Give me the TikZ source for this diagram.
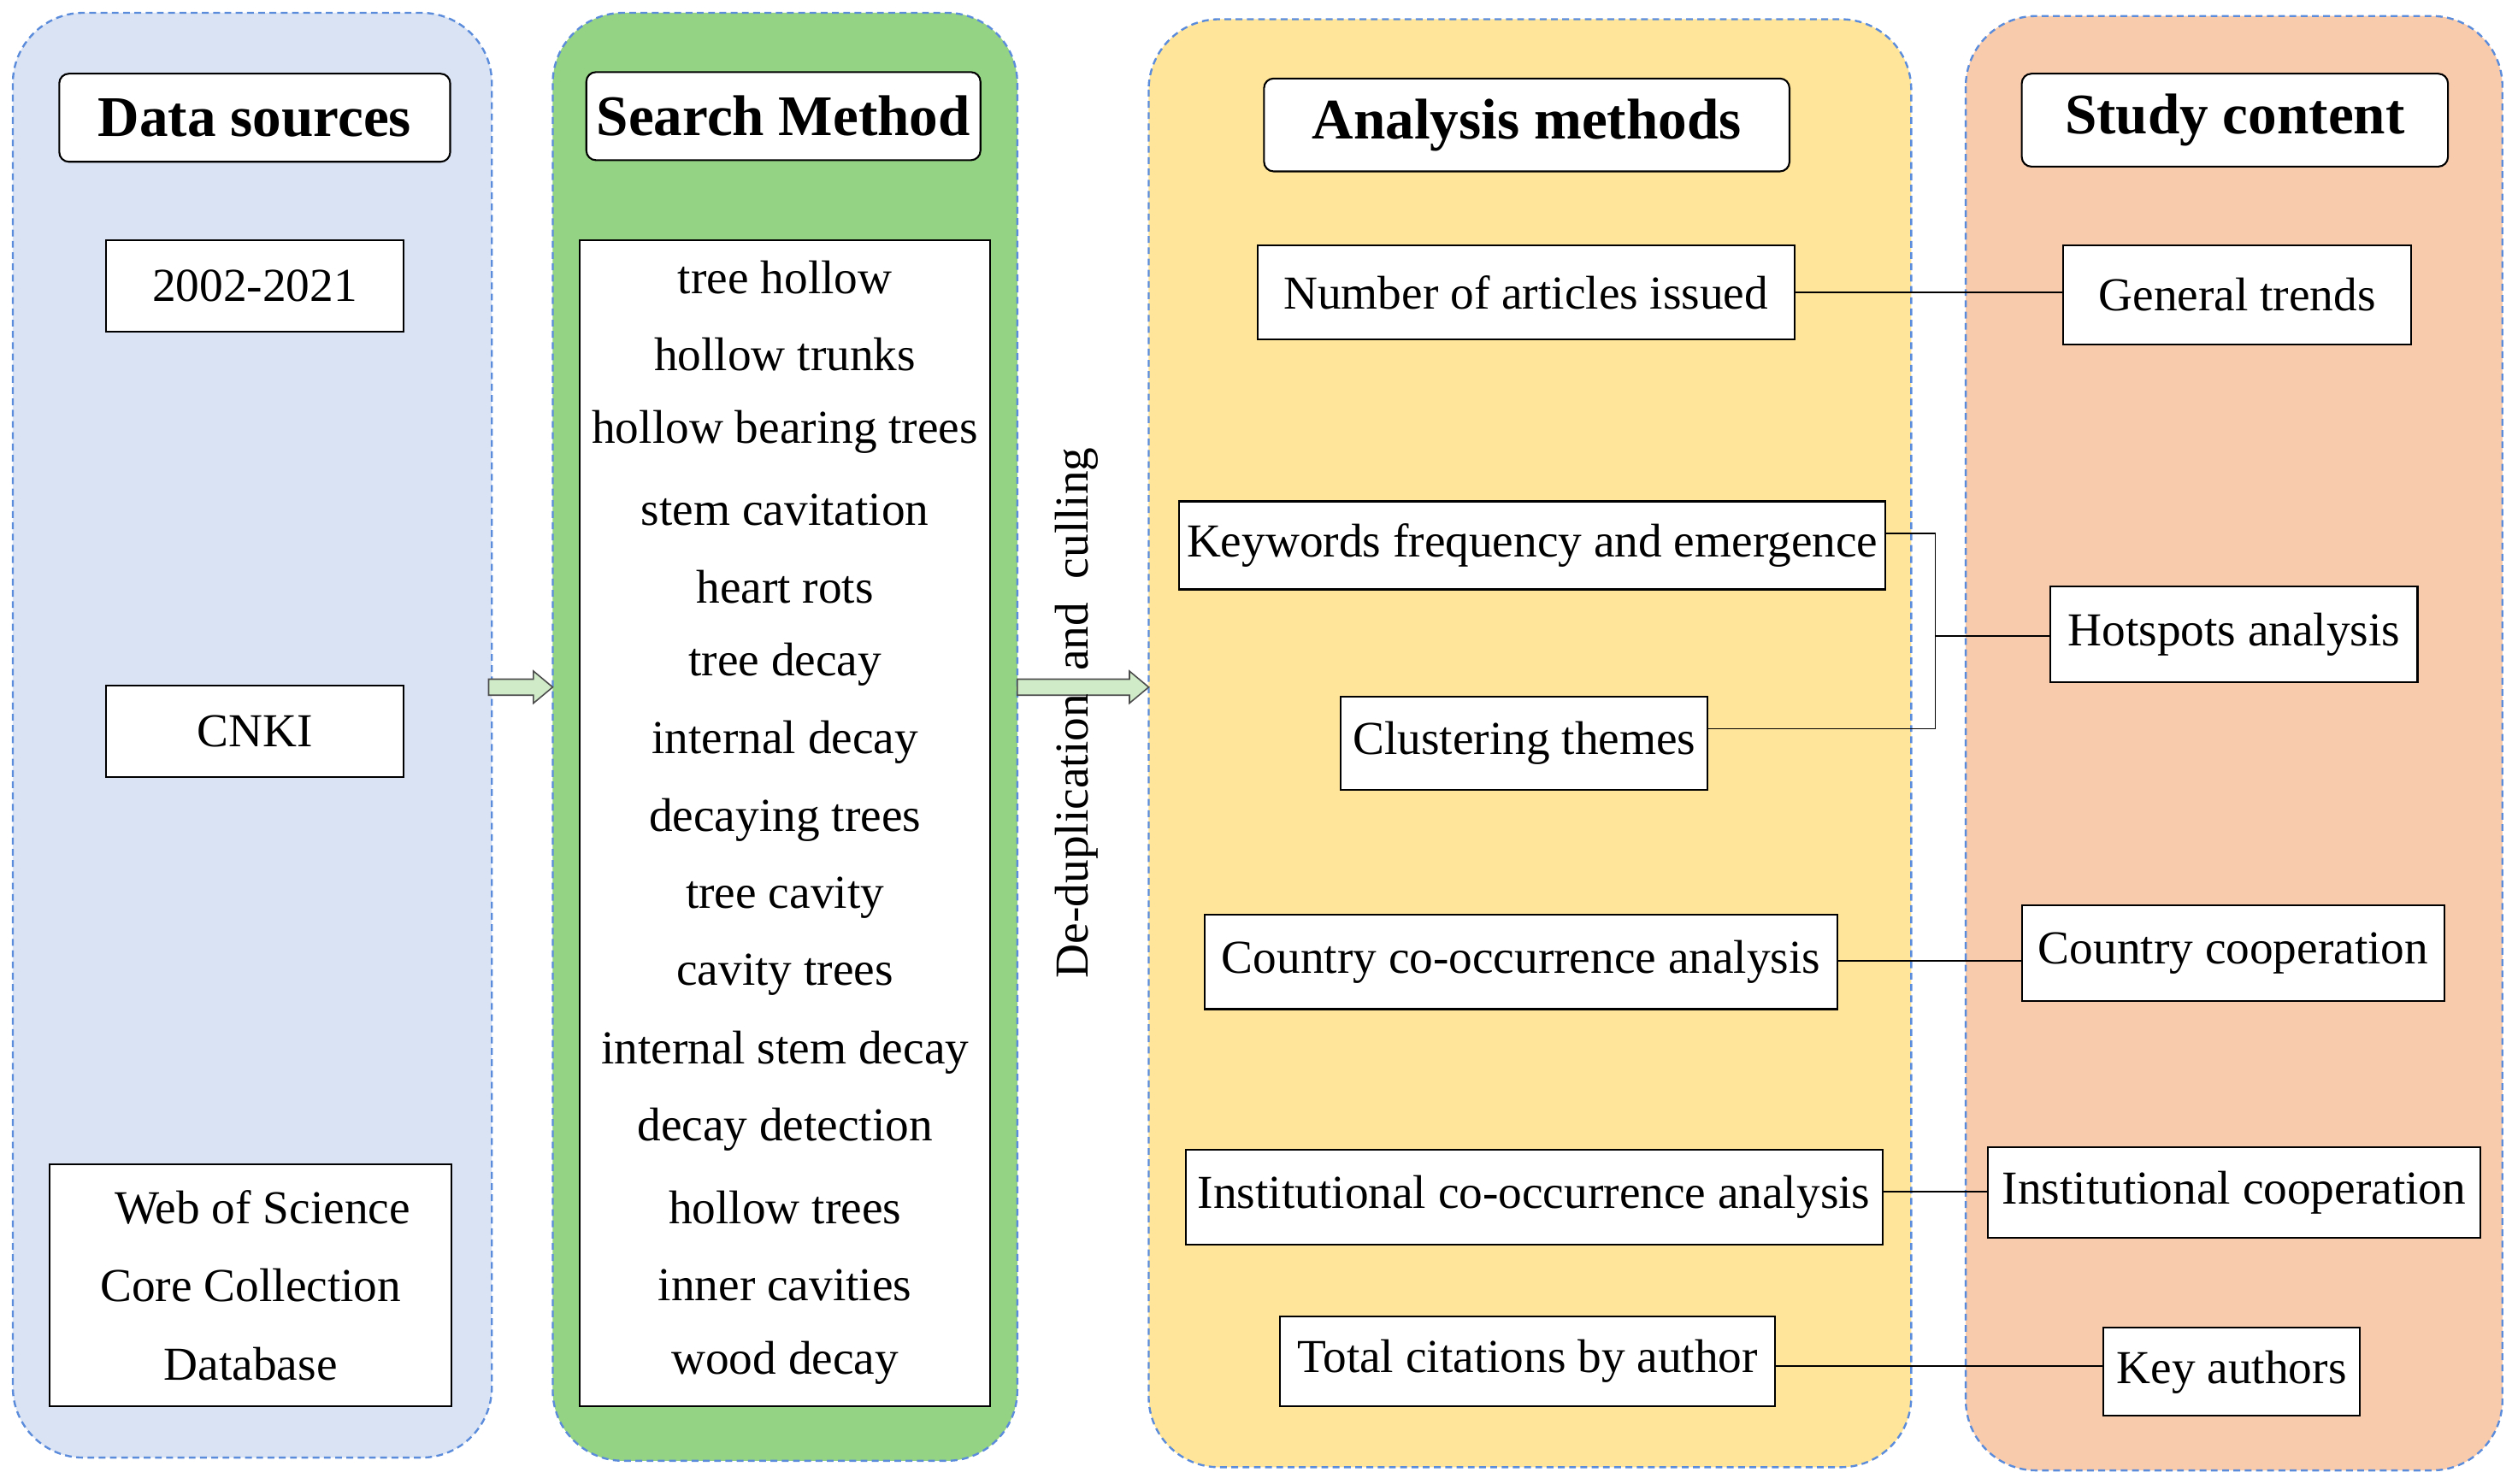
\documentclass[tikz,border=0pt]{standalone}
\usepackage{fontspec}
\setmainfont{Liberation Serif}
\definecolor{cblue}{RGB}{218,227,243}
\definecolor{cgreen}{RGB}{148,210,132}
\definecolor{cyellow}{RGB}{255,229,153}
\definecolor{corange}{RGB}{249,203,173}
\definecolor{dashb}{RGB}{91,140,220}
\begin{document}
\begin{tikzpicture}[x=0.5mm,y=-0.5mm,
  col/.style={draw=dashb,dashed,dash pattern=on 6pt off 4pt,line width=1.8pt,rounded corners=22mm},
  hdr/.style={draw,fill=white,line width=1.6pt,rounded corners=3mm,inner sep=0pt,font=\fontsize{51}{60}\selectfont\bfseries},
  box/.style={draw,fill=white,line width=1.6pt,inner sep=0pt,font=\fontsize{42}{50}\selectfont},
  ln/.style={line width=1.3pt},
  blk/.style={draw=black!70,fill=cgreen!45,line width=1.2pt}]
\useasboundingbox (0,0) rectangle (1568,926);
\fill[white] (0,0) rectangle (1568,926);
% columns
\draw[col,fill=cblue] (8,8) rectangle (307,910);
\draw[col,fill=cgreen] (345,8) rectangle (635,912);
\draw[col,fill=cyellow] (717,12) rectangle (1193,916);
\draw[col,fill=corange] (1227,10) rectangle (1562,918);
% headers
\node[hdr,minimum width=122mm,minimum height=27.5mm] (h1) at (159,73.5) {Data sources};
\node[hdr,minimum width=123mm,minimum height=27.5mm] (h2) at (489,72.5) {Search Method};
\node[hdr,minimum width=164mm,minimum height=29mm] (h3) at (953,78) {Analysis methods};
\node[hdr,minimum width=133mm,minimum height=29mm] (h4) at (1395,75) {Study content};
% data sources
\node[box,minimum width=93mm,minimum height=28.5mm] (d1) at (159,178.5) {2002-2021};
\node[box,minimum width=93mm,minimum height=28.5mm] (d2) at (159,456.5) {CNKI};
\node[box,minimum width=125.5mm,minimum height=75.5mm,align=center,font=\fontsize{42}{24.5mm}\selectfont] (d3) at (156.5,802.5) {\ \ Web of Science\\Core Collection\\Database};
% search list
\node[box,minimum width=128mm,minimum height=364mm] (s) at (490,514) {};
\foreach \t [count=\i] in {tree hollow,hollow trunks,hollow bearing trees,stem cavitation,heart rots,tree decay,internal decay,decaying trees,tree cavity,cavity trees,internal stem decay,decay detection,hollow trees,inner cavities,wood decay}
  \node[font=\fontsize{42}{50}\selectfont] (s\i) at (490,{173+(\i-1)*48.4}) {\t};
% arrows
\draw[blk] (305,424) -- (333,424) -- (333,419) -- (345,429) -- (333,439) -- (333,434) -- (305,434) -- cycle;
\draw[blk] (635,424) -- (705,424) -- (705,419) -- (717,429) -- (705,439) -- (705,434) -- (635,434) -- cycle;
\node[rotate=90,font=\fontsize{42}{50}\selectfont] (dl) at (672,445) {De-duplication\ \ and\ \ culling};
% analysis
\node[box,minimum width=167.5mm,minimum height=29.5mm] (m1) at (952.5,182.5) {Number of articles issued};
\node[box,minimum width=220.5mm,minimum height=27.5mm] (m2) at (956.5,340.5) {Keywords frequency and emergence};
\node[box,minimum width=114.5mm,minimum height=29mm] (m3) at (951.5,464) {Clustering themes};
\node[box,minimum width=197.5mm,minimum height=29.5mm] (m4) at (949.5,600.5) {Country co-occurrence analysis};
\node[box,minimum width=217.5mm,minimum height=29.5mm] (m5) at (957.5,747.5) {Institutional co-occurrence analysis};
\node[box,minimum width=154.5mm,minimum height=28mm] (m6) at (953.5,850) {Total citations by author};
% study
\node[box,minimum width=108.5mm,minimum height=31mm] (c1) at (1396.5,184) {General trends};
\node[box,minimum width=114.5mm,minimum height=30mm] (c2) at (1394.5,396) {Hotspots analysis};
\node[box,minimum width=132mm,minimum height=30mm] (c3) at (1394,595) {Country cooperation};
\node[box,minimum width=153.5mm,minimum height=28.5mm] (c4) at (1394.5,744.5) {Institutional cooperation};
\node[box,minimum width=80mm,minimum height=27.5mm] (c5) at (1393,856.5) {Key authors};
% connectors
\draw[ln] (m1.east) -- (c1.west |- m1.east);
\coordinate (j1) at (1208,333);
\coordinate (j2) at (1208,455);
\draw[ln] (m2.east |- j1) -- (j1) -- (j2) -- (m3.east |- j2);
\draw[ln] (1208,397) -- (c2.west |- 0,397);
\draw[ln] (m4.east |- 0,600) -- (c3.west |- 0,600);
\draw[ln] (m5.east |- 0,744) -- (c4.west |- 0,744);
\draw[ln] (m6.east |- 0,853) -- (c5.west |- 0,853);
\end{tikzpicture}
\end{document}
